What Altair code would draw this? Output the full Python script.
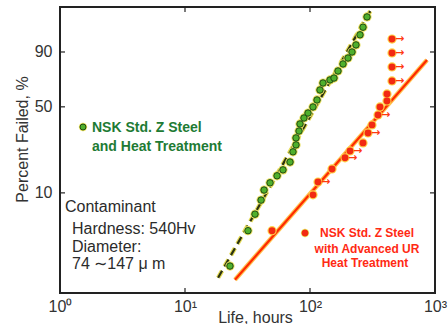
import math
import altair as alt
import pandas as pd

# ---------------- data ----------------
green_hours = [22.9, 31.9, 36.3, 40.6, 42.9, 47.9, 54.5, 60.8, 69.2, 73.1,
               77.3, 77.3, 81.7, 83.2, 89.5, 96.4, 105.7, 113.8, 120.2, 127.1,
               144.5, 155.6, 167.5, 183.7, 201.4, 216.8, 233.3, 251.2, 265.5, 285.8]
green_pct = [2.1, 4.5, 6.4, 8.6, 10.6, 12.3, 14.2, 16.0, 18.7, 22.8,
             26.0, 29.6, 33.5, 37.9, 41.9, 45.4, 49.9, 55.3, 63.3, 68.9,
             71.3, 72.8, 78.1, 83.0, 86.7, 90.0, 93.2, 96.5, 98.1, 99.3]

red_hours = [49.7, 105.7, 115.9, 150.0, 190.5, 208.9, 265.5, 291.1, 313.3,
             349.9, 363.1, 413.0, 413.0, 452.9, 452.9, 452.9, 452.9]
red_pct = [4.5, 9.6, 12.5, 16.3, 20.3, 23.2, 27.0, 32.4, 37.3,
           44.0, 49.9, 54.5, 60.1, 70.5, 81.0, 89.5, 95.3]
red_suspended = [0, 0, 1, 0, 1, 1, 0, 1, 0, 1, 0, 0, 0, 1, 1, 1, 1]

green_fit_hours = [18.4, 313.3]
green_fit_pct = [1.63, 99.76]
red_fit_hours = [25.1, 863.0]
red_fit_pct = [1.56, 85.5]

x_ticks = [1, 10, 100, 1000]
x_tick_labels = ["10\u2070", "10\u00b9", "10\u00b2", "10\u00b3"]
x_inner_ticks = [10, 100]
y_ticks = [10, 50, 90]
y_range_pct = [1.17, 99.79]

green_label = ["NSK Std. Z  Steel", "and Heat Treatment"]
red_label = ["NSK Std.  Z Steel", "with Advanced UR", "Heat Treatment"]
cont_label = ["Contaminant", "Hardness: 540Hv", "Diameter:", "74 \u223c147 \u03bc m"]


def weib(p):
    return math.log(-math.log(1 - p / 100.0))


FONT = "Liberation Sans"
W, H = 375, 286
GREEN_TXT = "#1e7b34"
RED_TXT = "#ff2a14"

green_df = pd.DataFrame({"hours": green_hours, "w": [weib(p) for p in green_pct]})
red_df = pd.DataFrame({"hours": red_hours, "w": [weib(p) for p in red_pct],
                       "susp": red_suspended})
gfit_df = pd.DataFrame({"hours": green_fit_hours, "w": [weib(p) for p in green_fit_pct]})
rfit_df = pd.DataFrame({"hours": red_fit_hours, "w": [weib(p) for p in red_fit_pct]})
ytick_df = pd.DataFrame({"w": [weib(p) for p in y_ticks]})
xtick_df = pd.DataFrame({"hours": x_inner_ticks})

xscale = alt.Scale(type="log", domain=[1, 1000], nice=False)
yscale = alt.Scale(domain=[weib(y_range_pct[0]), weib(y_range_pct[1])], nice=False, zero=False)

x_expr = " : ".join(
    f"datum.value == {v} ? '{l}'" for v, l in zip(x_ticks, x_tick_labels)
) + " : ''"
y_vals = [weib(p) for p in y_ticks]
y_expr = " : ".join(
    f"abs(datum.value - ({v})) < 0.01 ? '{l}'" for v, l in zip(y_vals, y_ticks)
) + " : ''"

X_axis = alt.Axis(values=x_ticks, labelExpr=x_expr, title="Life, hours",
                  labelPadding=5, titleX=195, titleY=16, titleBaseline="top",
                  labelFontSize=16, titleFontSize=16, labelFlush=False)
Y_axis = alt.Axis(values=y_vals, labelExpr=y_expr, title="Percent Failed, %",
                  labelPadding=8, titleX=-38, titleY=132, titleAngle=270,
                  titleAlign="center", titleBaseline="middle",
                  labelFontSize=16, titleFontSize=16, labelFlush=False)

X = alt.X("hours:Q", scale=xscale, axis=X_axis)
Y = alt.Y("w:Q", scale=yscale, axis=Y_axis)

# inward ticks
yt_left = alt.Chart(ytick_df).mark_rule(color="#222", strokeWidth=1.2).encode(
    y=Y, x=alt.value(0), x2=alt.value(5))
yt_right = alt.Chart(ytick_df).mark_rule(color="#222", strokeWidth=1.2).encode(
    y=Y, x=alt.value(W - 5), x2=alt.value(W))
xt_bot = alt.Chart(xtick_df).mark_rule(color="#222", strokeWidth=1.2).encode(
    x=X, y=alt.value(H - 5), y2=alt.value(H))
xt_top = alt.Chart(xtick_df).mark_rule(color="#222", strokeWidth=1.2).encode(
    x=X, y=alt.value(0), y2=alt.value(5))

# fit lines
gfit_halo = alt.Chart(gfit_df).mark_line(color="#e6dc55", strokeWidth=4.5,
                                         strokeDash=[8, 5], clip=True).encode(x=X, y=Y)
gfit = alt.Chart(gfit_df).mark_line(color="#2b3212", strokeWidth=2.2,
                                    strokeDash=[8, 5], clip=True).encode(x=X, y=Y)
rfit_halo = alt.Chart(rfit_df).mark_line(color="#ffc24e", strokeWidth=4.5,
                                         clip=True).encode(x=X, y=Y)
rfit = alt.Chart(rfit_df).mark_line(color="#ff2a00", strokeWidth=2.2,
                                    clip=True).encode(x=X, y=Y)

# points
g_halo = alt.Chart(green_df).mark_circle(size=85, color="#e8e060", opacity=1).encode(x=X, y=Y)
g_pts = alt.Chart(green_df).mark_point(shape="circle", filled=True, size=42, fill="#4fb02c",
                                       stroke="#1e4a12", strokeWidth=1, opacity=1).encode(x=X, y=Y)
r_halo = alt.Chart(red_df).mark_circle(size=85, color="#ffd24a", opacity=1).encode(x=X, y=Y)
r_pts = alt.Chart(red_df).mark_circle(size=48, color="#f22a12", opacity=1).encode(x=X, y=Y)
r_arrows = alt.Chart(red_df).transform_filter("datum.susp == 1").mark_text(
    text="\u2192", font="DejaVu Sans", fontSize=11, fontWeight="bold", color="#ff3a10",
    align="left", baseline="middle", dx=3).encode(x=X, y=Y)

one = pd.DataFrame({"a": [0]})


def txt(s, x, y, size, color, weight="normal", align="left"):
    return alt.Chart(one).mark_text(
        text=s, font=FONT, fontSize=size, fontWeight=weight, color=color,
        align=align, baseline="middle").encode(x=alt.value(x), y=alt.value(y))


def dot(x, y, fill, stroke):
    halo = alt.Chart(one).mark_circle(size=70, color="#e8e060", opacity=1).encode(
        x=alt.value(x), y=alt.value(y))
    d = alt.Chart(one).mark_point(shape="circle", filled=True, size=36, fill=fill,
                                  stroke=stroke, strokeWidth=1, opacity=1).encode(
        x=alt.value(x), y=alt.value(y))
    return [halo, d]


annot = []
annot += dot(23, 120, "#4fb02c", "#1e4a12")
annot.append(txt(green_label[0], 32, 121, 14, GREEN_TXT, "bold"))
annot.append(txt(green_label[1], 32, 140, 14, GREEN_TXT, "bold"))
annot.append(txt(cont_label[0], 5, 200, 16, "#2b2b2b"))
annot.append(txt(cont_label[1], 12, 222, 16, "#2b2b2b"))
annot.append(txt(cont_label[2], 12, 240, 16, "#2b2b2b"))
annot.append(txt(cont_label[3], 12, 257, 16, "#2b2b2b"))
annot += dot(245, 226, "#f22a12", "#f22a12")
annot.append(txt(red_label[0], 307, 226, 12, RED_TXT, "bold", "center"))
annot.append(txt(red_label[1], 307, 242, 12, RED_TXT, "bold", "center"))
annot.append(txt(red_label[2], 305, 256, 12, RED_TXT, "bold", "center"))

chart = alt.layer(
    gfit_halo, gfit, rfit_halo, rfit,
    yt_left, yt_right, xt_bot, xt_top,
    g_halo, g_pts, r_halo, r_pts, r_arrows,
    *annot
).properties(
    width=W, height=H,
    padding={"left": 60, "top": 7, "right": 13, "bottom": 31},
    autosize=alt.AutoSizeParams(type="none"),
    background="white",
).configure_view(
    stroke="#222", strokeWidth=2
).configure_axis(
    domain=False, ticks=False, grid=False,
    labelFont=FONT, titleFont=FONT, labelColor="#333", titleColor="#333",
    titleFontWeight="normal",
)

chart.save("out.html", embed_options={"renderer": "svg", "actions": False})
